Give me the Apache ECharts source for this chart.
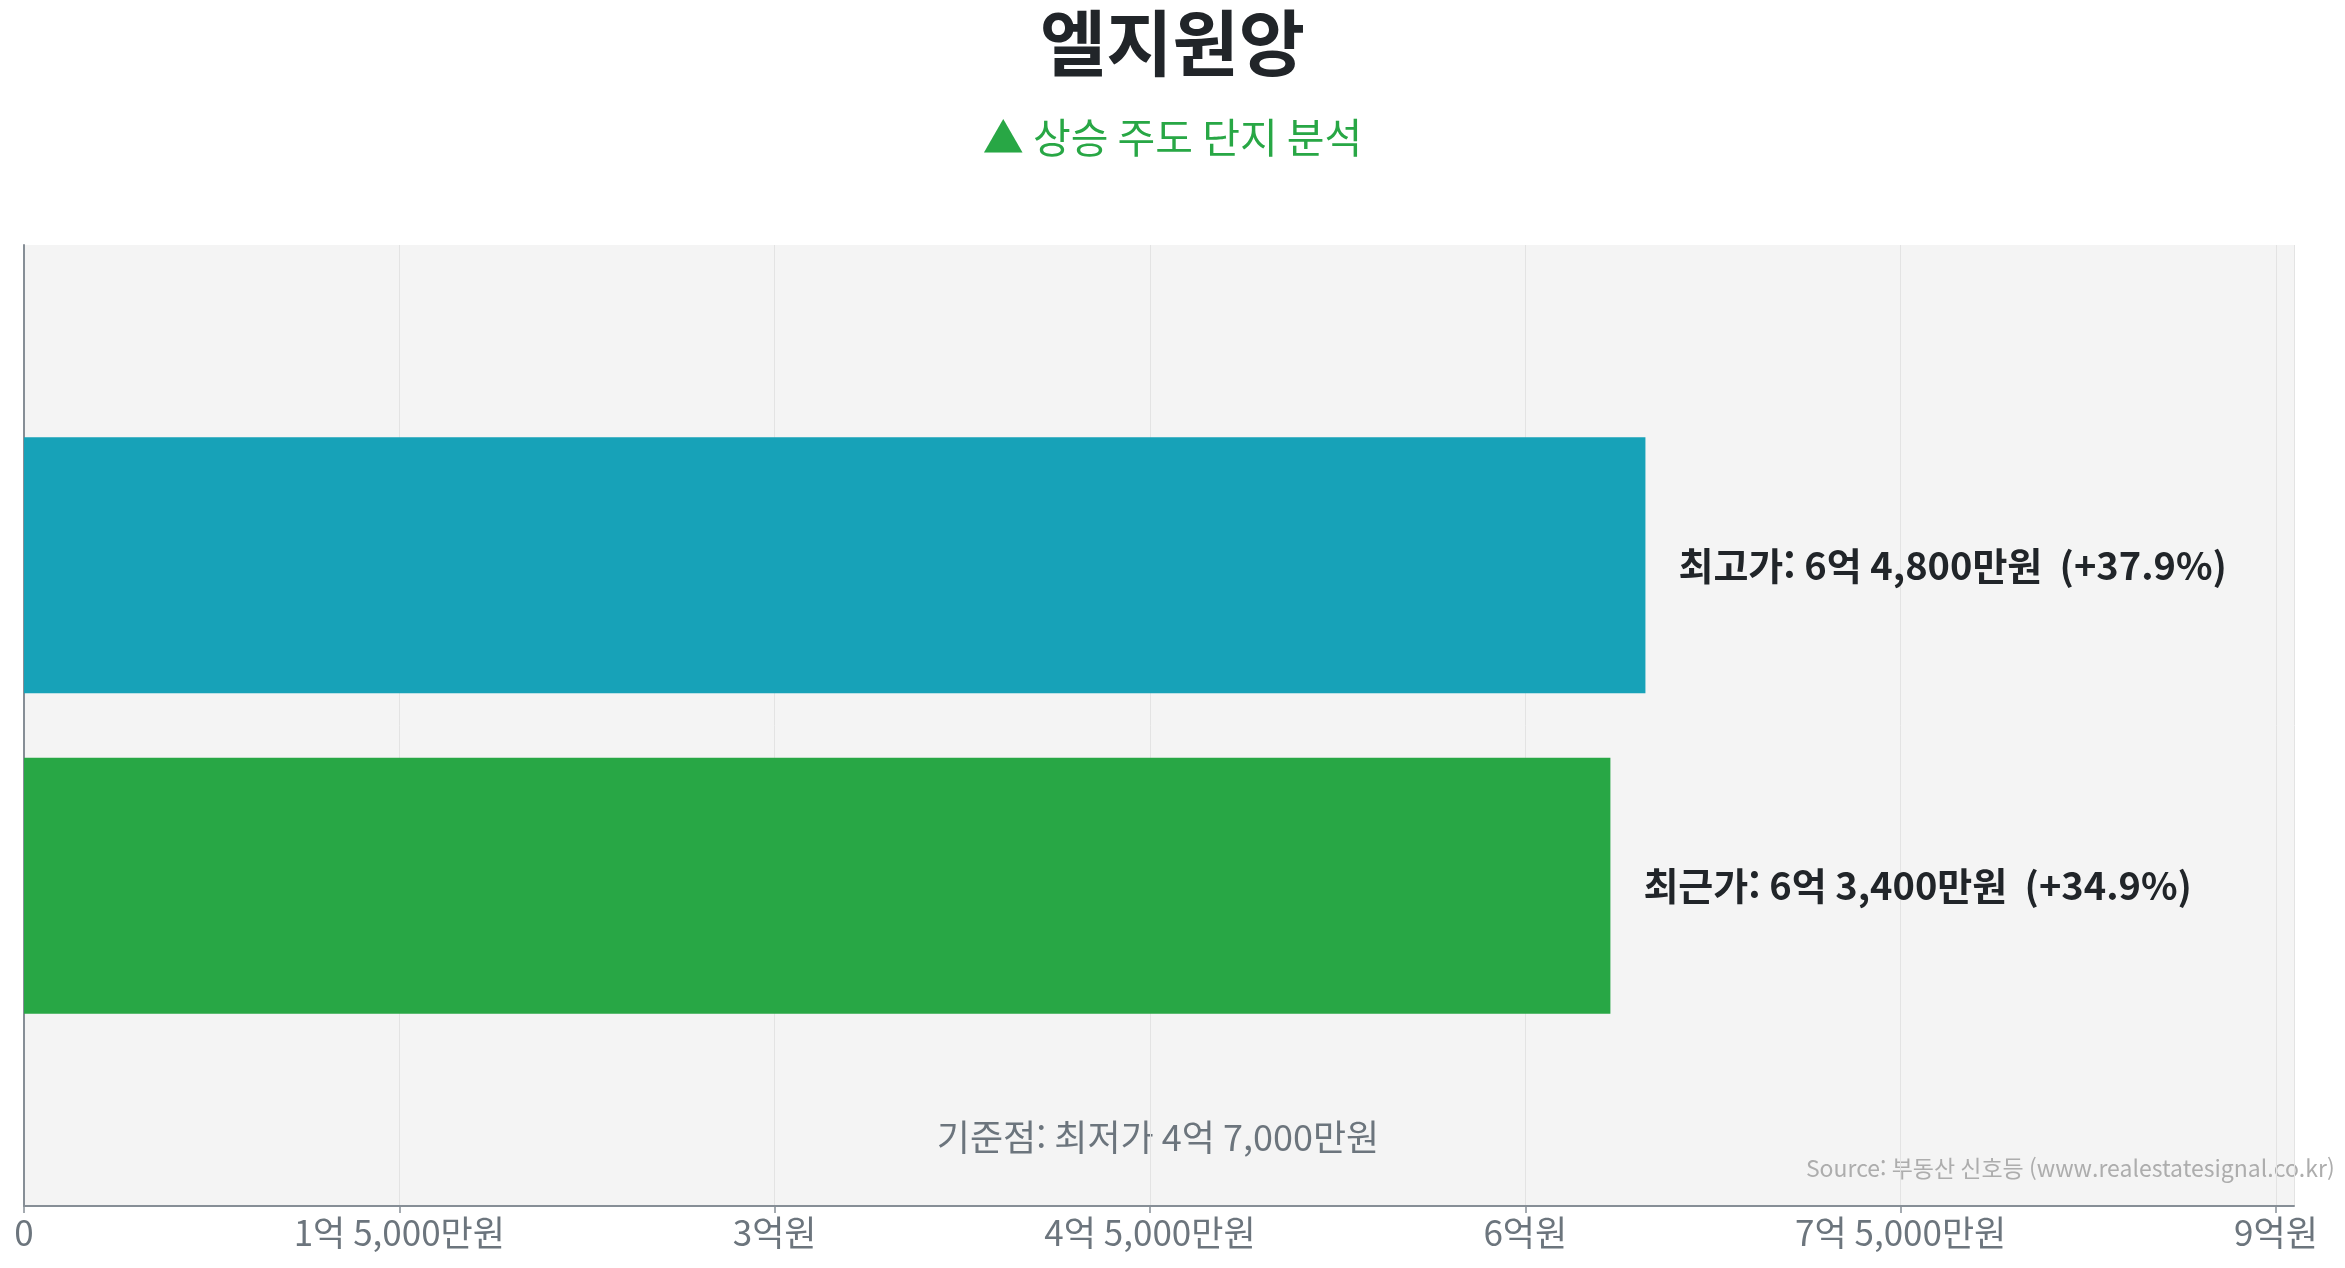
<!DOCTYPE html>
<html lang="ko">
<head>
<meta charset="UTF-8">
<title>엘지원앙</title>
<script src="https://cdn.jsdelivr.net/npm/echarts@6/dist/echarts.min.js"></script>
<style>
    html, body { margin: 0; padding: 0; background: #fff; }
    #main { width: 2345px; height: 1268px; }
</style>
</head>
<body>
<div id="main"></div>
<script>
    // 데이터
    var titleText = '엘지원앙';
    var subTitleText = '▲ 상승 주도 단지 분석';
    var priceNames = ['최고가', '최근가'];
    var priceValues = [648000000, 634000000];
    var basePrice = 470000000;   // 최저가
    var baseName = '최저가';
    var sourceText = 'Source: 부동산 신호등 (www.realestatesignal.co.kr)';

    var FONT = '"Noto Sans CJK KR", "Noto Sans", sans-serif';
    var barColors = ['#17a2b8', '#28a745'];

    // 억/만원 표기
    function won(v) {
        if (v === 0) return '0';
        var eok = Math.floor(v / 100000000);
        var man = Math.round((v % 100000000) / 10000);
        var s = '';
        if (eok > 0) s += eok + '억';
        if (man > 0) {
            s += (s ? ' ' : '') + man.toLocaleString('en-US') + '만원';
        } else {
            s += '원';
        }
        return s;
    }

    var maxVal = Math.max.apply(null, priceValues);

    // 위/아래 빈 칸을 둔 카테고리 (boundaryGap false)
    var cats = [''].concat(priceNames).concat(['']);
    var barData = [null].concat(priceValues.map(function (v, i) {
        return { value: v, itemStyle: { color: barColors[i] } };
    })).concat([null]);

    var myChart = echarts.init(document.getElementById('main'));

    var option = {
        backgroundColor: '#ffffff',
        animation: false,
        title: [{
            text: titleText,
            left: 'center',
            top: 2,
            textStyle: { fontFamily: FONT, fontSize: 72, fontWeight: 'bold', color: '#212529' }
        }, {
            text: subTitleText,
            left: 'center',
            top: 112,
            textStyle: { fontFamily: FONT, fontSize: 41, fontWeight: 'normal', color: '#28a745' }
        }],
        grid: {
            left: 24,
            right: 51,
            top: 245,
            bottom: 62,
            show: true,
            backgroundColor: '#f4f4f4',
            borderWidth: 0
        },
        xAxis: {
            type: 'value',
            min: 0,
            max: maxVal * 1.4,
            interval: 150000000,
            axisLine: { show: true, lineStyle: { color: '#868e96', width: 2 } },
            axisTick: { show: true, length: 7, lineStyle: { color: '#868e96', width: 1.5 } },
            splitLine: { show: true, lineStyle: { color: '#e3e3e3', width: 1 } },
            axisLabel: {
                margin: 9,
                fontFamily: FONT,
                fontSize: 35,
                color: '#6c757d',
                showMaxLabel: false,
                formatter: function (v) { return won(v); }
            }
        },
        yAxis: {
            type: 'category',
            inverse: true,
            boundaryGap: false,
            data: cats,
            axisLine: { show: true, lineStyle: { color: '#868e96', width: 2 } },
            axisTick: { show: false },
            axisLabel: { show: false },
            splitLine: { show: false }
        },
        series: [{
            type: 'bar',
            data: barData,
            barWidth: 256,
            label: {
                show: true,
                position: 'right',
                distance: 33,
                fontFamily: FONT,
                fontSize: 38,
                fontWeight: 'bold',
                color: '#212529',
                formatter: function (p) {
                    var pct = (p.value - basePrice) / basePrice * 100;
                    return p.name + ': ' + won(p.value) + '  (+' + pct.toFixed(1) + '%)';
                }
            }
        }],
        graphic: [{
            type: 'text',
            x: 1158,
            y: 1137,
            style: {
                text: '기준점: ' + baseName + ' ' + won(basePrice),
                fontFamily: FONT,
                fontSize: 36,
                fill: '#6c757d',
                align: 'center',
                verticalAlign: 'middle'
            }
        }, {
            type: 'text',
            right: 12,
            top: 1157,
            style: {
                text: sourceText,
                fontFamily: FONT,
                fontSize: 23,
                fill: '#adadad'
            }
        }]
    };

    myChart.setOption(option);
</script>
</body>
</html>
